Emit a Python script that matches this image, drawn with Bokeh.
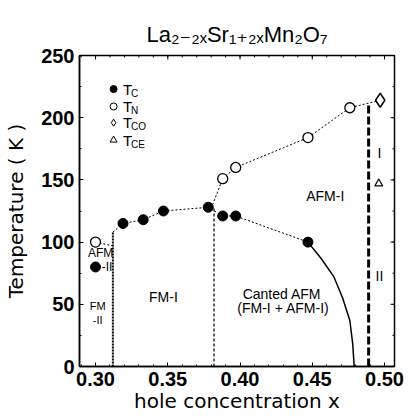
from bokeh.plotting import figure
from bokeh.models import Range1d, NumeralTickFormatter, FixedTicker
from bokeh.core.properties import value
from bokeh.embed import file_html
from bokeh.resources import INLINE

# ---------------- data ----------------
x_tc = [0.300, 0.319, 0.333, 0.347, 0.378, 0.388, 0.397, 0.447]
t_c = [80, 115, 118, 125, 128, 121, 121, 100]

x_tn = [0.300, 0.388, 0.397, 0.447, 0.476]
t_n = [100, 151, 160, 184, 208]

x_tco = [0.497]
t_co = [214]

x_tce = [0.496]
t_ce = [147]

# phase boundary guide lines
tc_line_x = [0.312, 0.319, 0.333, 0.347, 0.378, 0.388, 0.397, 0.447]
tc_line_y = [108, 115, 118, 125, 128, 121, 121, 100]
tc_fall_x = [0.447, 0.456, 0.465, 0.471, 0.476, 0.478, 0.479]
tc_fall_y = [100, 87, 72, 55, 37, 18, 0]
tn_line_x = [0.381, 0.388, 0.397, 0.447, 0.476, 0.497]
tn_line_y = [130, 151, 160, 184, 208, 214]
afm2_line_x = [0.300, 0.312]
afm2_line_y = [100, 97]

# vertical phase boundaries
vb_x = [0.312, 0.382, 0.489]
vb_top = [108, 128, 210]

x_ticks = [0.30, 0.35, 0.40, 0.45, 0.50]
x_minor = [round(0.29 + 0.01 * i, 2) for i in range(22)]
y_ticks = [0, 50, 100, 150, 200, 250]
y_minor = [25 * i for i in range(11)]

# region labels
region_text = ["AFM", "-II", "FM", "-II", "FM-I", "Canted AFM", "(FM-I + AFM-I)", "AFM-I", "I", "II"]
region_x = [0.3035, 0.308, 0.3015, 0.3015, 0.347, 0.429, 0.430, 0.459, 0.4965, 0.4965]
region_y = [91, 80, 49, 37, 56, 58, 47, 137, 172, 73]
region_size = ["12px", "12px", "11px", "11px", "14px", "14px", "14px", "14px", "14px", "14px"]

# legend
legend_sub = ["C", "N", "CO", "CE"]
legend_y = [223, 209, 196, 182]
legend_marker = ["circle", "circle", "diamond", "triangle"]
legend_fill = ["black", "white", "white", "white"]

TITLE = "La\u2082\u208b\u2082\u2093Sr\u2081\u208a\u2082\u2093Mn\u2082O\u2087"

# ---------------- figure ----------------
W, H = 412, 417
ML, MR, MT, MB = 79, 18, 55, 51
X0, X1 = 0.2889, 0.5069
FONT = "Liberation Sans"

p = figure(width=W, height=H, output_backend="svg", toolbar_location=None,
           x_range=Range1d(X0, X1), y_range=Range1d(0, 250),
           min_border_left=ML, min_border_right=MR,
           min_border_top=MT, min_border_bottom=MB,
           title=TITLE,
           x_axis_label="hole concentration x",
           y_axis_label="Temperature ( K )")
p.title.align = "center"
p.title.text_font = "Liberation Sans, DejaVu Sans"
p.title.text_font_size = "22px"
p.title.text_font_style = "normal"
p.title.text_color = "black"
p.title.standoff = 17

p.background_fill_color = "white"
p.border_fill_color = "white"
p.xgrid.visible = False
p.ygrid.visible = False
p.outline_line_color = "black"
p.outline_line_width = 1.5

p.xaxis[0].ticker = FixedTicker(ticks=x_ticks, minor_ticks=x_minor)
p.yaxis[0].ticker = FixedTicker(ticks=y_ticks, minor_ticks=y_minor)
for ax in (p.xaxis[0], p.yaxis[0]):
    ax.major_tick_in = 4
    ax.major_tick_out = 0
    ax.minor_tick_in = 2
    ax.minor_tick_out = 0
    ax.axis_line_color = "black"
    ax.axis_line_width = 1.5
    ax.major_label_text_font = FONT
    ax.major_label_text_font_size = "20px"
    ax.major_label_text_font_style = "bold"
    ax.major_label_text_color = "black"
    ax.axis_label_text_font = "DejaVu Sans"
    ax.axis_label_text_font_size = "20px"
    ax.axis_label_text_font_style = "normal"
    ax.axis_label_text_color = "black"
p.xaxis[0].formatter = NumeralTickFormatter(format="0.00")
p.xaxis[0].major_label_standoff = 5
p.xaxis[0].axis_label_standoff = 0
p.yaxis[0].major_label_standoff = 5
p.yaxis[0].axis_label_standoff = 10

# inward ticks on the top and right frame edges (half of each dash is clipped)
p.scatter(x_ticks, [250] * len(x_ticks), marker="dash", angle=1.5708, size=8,
          line_color="black", line_width=1)
p.scatter(x_minor, [250] * len(x_minor), marker="dash", angle=1.5708, size=4,
          line_color="black", line_width=1)
p.scatter([X1] * len(y_ticks), y_ticks, marker="dash", size=8,
          line_color="black", line_width=1)
p.scatter([X1] * len(y_minor), y_minor, marker="dash", size=4,
          line_color="black", line_width=1)

# guide lines
p.line(tc_line_x, tc_line_y, line_color="black", line_width=1, line_dash="2 2")
p.line(tc_fall_x, tc_fall_y, line_color="black", line_width=1.5)
p.line(tn_line_x, tn_line_y, line_color="black", line_width=1, line_dash="2 2")
p.line(afm2_line_x, afm2_line_y, line_color="black", line_width=1, line_dash="2 2")

# vertical phase boundaries
p.segment(x0=vb_x[:1], y0=[0], x1=vb_x[:1], y1=vb_top[:1],
          line_color="black", line_width=2, line_dash="2 1")
p.segment(x0=vb_x[1:2], y0=[0], x1=vb_x[1:2], y1=vb_top[1:2],
          line_color="black", line_width=1.2, line_dash="3 2")
p.segment(x0=vb_x[2:], y0=[0], x1=vb_x[2:], y1=vb_top[2:],
          line_color="black", line_width=3, line_dash="8 3")

# data markers
p.scatter(x_tc, t_c, marker="circle", size=10, fill_color="black", line_color="black")
p.scatter(x_tn, t_n, marker="circle", size=10, fill_color="white",
          line_color="black", line_width=1.3)
p.scatter(x_tco, t_co, marker="diamond", size=14, fill_color="white",
          line_color="black", line_width=1.5)
p.scatter(x_tce, t_ce, marker="triangle", size=8, fill_color="white",
          line_color="black", line_width=1.2)

# region labels
for t, x, y, s in zip(region_text, region_x, region_y, region_size):
    p.text(x=[x], y=[y], text=[t], text_font=value(FONT), text_font_size=s,
           text_align="center", text_baseline="middle", text_color="black")

# legend (drawn by hand for the subscripts)
LX = 0.3125
LTX = 0.3190
for sub, y, m, f in zip(legend_sub, legend_y, legend_marker, legend_fill):
    p.scatter([LX], [y], marker=m, size=7, fill_color=f, line_color="black", line_width=1)
    p.text(x=[LTX], y=[y], text=["T"], text_font=value(FONT), text_font_size="15px",
           text_align="left", text_baseline="middle", text_color="black")
    p.text(x=[LTX], y=[y], text=[sub], text_font=value(FONT), text_font_size="10px",
           text_align="left", text_baseline="middle", text_color="black",
           x_offset=8, y_offset=4)

open("out.html", "w").write(file_html(p, INLINE))
